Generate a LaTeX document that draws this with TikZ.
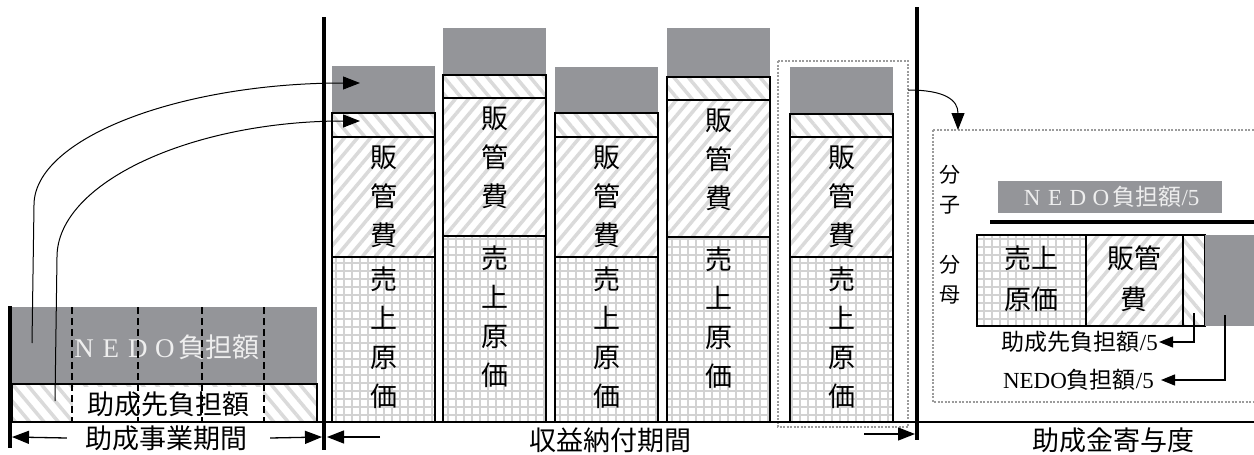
\documentclass[tikz,border=0pt]{standalone}
\usepackage{fontspec}
\setmainfont{Liberation Serif}
\newfontfamily\jp{Noto Sans CJK JP}
\usetikzlibrary{arrows.meta,patterns.meta,positioning}

\definecolor{nedogray}{RGB}{148,149,153}
\definecolor{hatchgray}{RGB}{218,218,218}
\definecolor{gridgray}{RGB}{210,210,210}
\definecolor{dotgray}{RGB}{155,155,155}
\definecolor{paletext}{RGB}{238,238,238}

\newcommand{\fw}[1]{\makebox[1em]{\rmfamily #1}}

\tikzset{
	nedo/.style={fill=nedogray},
	outline/.style={draw=black, line width=1.4pt},
	selfpart/.style={outline, pattern={Lines[angle=-50,distance=11pt,line width=3.5pt]}, pattern color=hatchgray},
	sga/.style={outline, pattern={Lines[angle=50,distance=10pt,line width=3.5pt]}, pattern color=hatchgray},
	cogs/.style={outline, pattern={Hatch[distance=8pt,line width=1.8pt]}, pattern color=gridgray},
	dotbox/.style={draw=dotgray, line width=2pt, dash pattern=on 2pt off 1.5pt},
	wall/.style={line width=4.5pt},
	tip/.style={line width=1.3pt, -{Triangle[length=17pt,width=13pt]}},
	smalltip/.style={line width=1.3pt, -{Triangle[length=14pt,width=11pt]}},
	jptext/.style={inner sep=1pt, font=\jp\fontsize{27pt}{39pt}\selectfont},
	vtext/.style={jptext, align=center},
	smalltext/.style={inner sep=1pt, font=\fontsize{23pt}{28pt}\selectfont},
	pale/.style={text=paletext},
}

\begin{document}
\begin{tikzpicture}[x=1pt, y=-1pt]

		% === page bounds ===
		\def\W{1254}	\def\H{455}
		\def\bw{103}	% bar width
		\def\base{422}	% time axis
		\useasboundingbox (0,0) rectangle (\W,\H);
		\clip (0,0) rectangle (\W,\H);
		\fill[white] (0,0) rectangle (\W,\H);

		% === subsidy period (left) ===
		\path[nedo] (10,307) rectangle (317,384);
		\draw[selfpart] (12,384) rectangle (317,\base);
		\node[jptext, fill=white, minimum width=190pt, minimum height=34pt] (own) at (168,404) {助成先負担額};
		\node[jptext, pale] (nedoL) at (165,347) {\fw{N}\fw{E}\fw{D}\fw{O}負担額};
		\foreach \x in {72,138,202,264}
			\draw[line width=1.4pt, dash pattern=on 7pt off 4pt] (\x,307) -- (\x,\base);	% year splits

		% === revenue period bars ===
		\foreach \i/\xl/\ya/\yb/\yc/\yd in {1/332/66/113/137/257, 2/443/28/75/98/236, 3/555/67/113/137/257, 4/667/28/77/100/237, 5/790/67/114/137/257} {
			\path[nedo]		(\xl,\ya) rectangle (\xl+\bw,\yb);		% NEDO share
			\draw[selfpart]	(\xl,\yb) rectangle (\xl+\bw,\yc);		% own share
			\draw[sga]		(\xl,\yc) rectangle (\xl+\bw,\yd);		% SG&A
			\draw[cogs]		(\xl,\yd) rectangle (\xl+\bw,\base);	% cost of sales
			\node[vtext, anchor=north] (s\i) at (\xl+\bw/2,\yc+8) {販\\管\\費};
			\node[vtext, anchor=north] (c\i) at (\xl+\bw/2,\yd+9) {売\\上\\原\\価};
		}
		\draw[dotbox] (778,61) rectangle (908,427);

		% === axis and period walls ===
		\draw[line width=1.4pt] (10,\base) -- (\W+10,\base);
		\draw[line width=4pt] (10,306) -- (10,448);
		\draw[wall] (324,17) -- (324,450);
		\draw[wall] (917,7) -- (917,440);

		% === carry-over arrows ===
		\coordinate (a0) at (32,343);	\coordinate (a1) at (34,205);	\coordinate (aT) at (360,83);
		\coordinate (b0) at (55,401);	\coordinate (b1) at (57,257);	\coordinate (bT) at (360,121);
		\draw[tip, line width=1pt] (a0) -- (a1) .. controls (34,138) and (180,83) .. (aT);
		\draw[tip, line width=1pt] (b0) -- (b1) .. controls (57,182) and (193,121) .. (bT);

		% === period labels ===
		\node[jptext] (grant)	at (166,438)	{助成事業期間};
		\node[jptext] (payback)	at (610,440)	{収益納付期間};
		\node[jptext] (contrib)	at (1113,440)	{助成金寄与度};
		\coordinate (gL) at (12,437);	\coordinate (gR) at (322,437);
		\coordinate (p0) at (380,437);	\coordinate (pL) at (327,437);
		\coordinate (p1) at (864,434);	\coordinate (pR) at (915,434);
		\draw[tip] ([xshift=-17pt]grant.west) -- (gL);
		\draw[tip] ([xshift=22pt]grant.east) -- (gR);
		\draw[tip] (p0) -- (pL);
		\draw[tip] (p1) -- (pR);

		% === contribution ratio (right) ===
		\draw[dotbox] (933,130) rectangle (\W+10,402);
		\coordinate (e0) at (908,90);	\coordinate (e1) at (958,130);
		\draw[tip, line width=1pt] (e0) .. controls (945,90) and (958,100) .. (e1);

		\node[jptext, align=center, font=\jp\fontsize{21pt}{30pt}\selectfont] (numer) at (950,190) {分\\子};
		\node[jptext, align=center, font=\jp\fontsize{21pt}{30pt}\selectfont] (denom) at (950,280) {分\\母};
		\node[nedo, smalltext, pale, minimum width=224pt, minimum height=32pt] (num) at (1110,197) {\fw{N}\fw{E}\fw{D}\fw{O}{\jp 負担額}/5};
		\coordinate (f0) at (990,222);	\coordinate (f1) at (\W+10,222);
		\draw[line width=3.5pt] (f0) -- (f1);	% fraction bar

		\draw[cogs]		(977,235) rectangle (1086,326);
		\draw[sga]		(1086,235) rectangle (1183,326);
		\draw[selfpart]	(1183,235) rectangle (1205,326);
		\path[nedo]		(1205,235) rectangle (\W+10,326);
		\node[vtext, font=\jp\fontsize{27pt}{41pt}\selectfont] (dc) at (1031,279) {売上\\原価};
		\node[vtext, font=\jp\fontsize{27pt}{41pt}\selectfont] (ds) at (1134,279) {販管\\費};

		\node[smalltext, anchor=east] (lab1) at (1159,342) {{\jp 助成先負担額}/5};
		\node[smalltext, anchor=east] (lab2) at (1155,380) {NEDO{\jp 負担額}/5};
		\coordinate (h0) at (1194,313);	\coordinate (n0) at (1225,315);
		\draw[smalltip] (h0) |- (lab1.east);
		\draw[smalltip] (n0) |- ([xshift=6pt]lab2.east);
	\end{tikzpicture}
\end{document}
